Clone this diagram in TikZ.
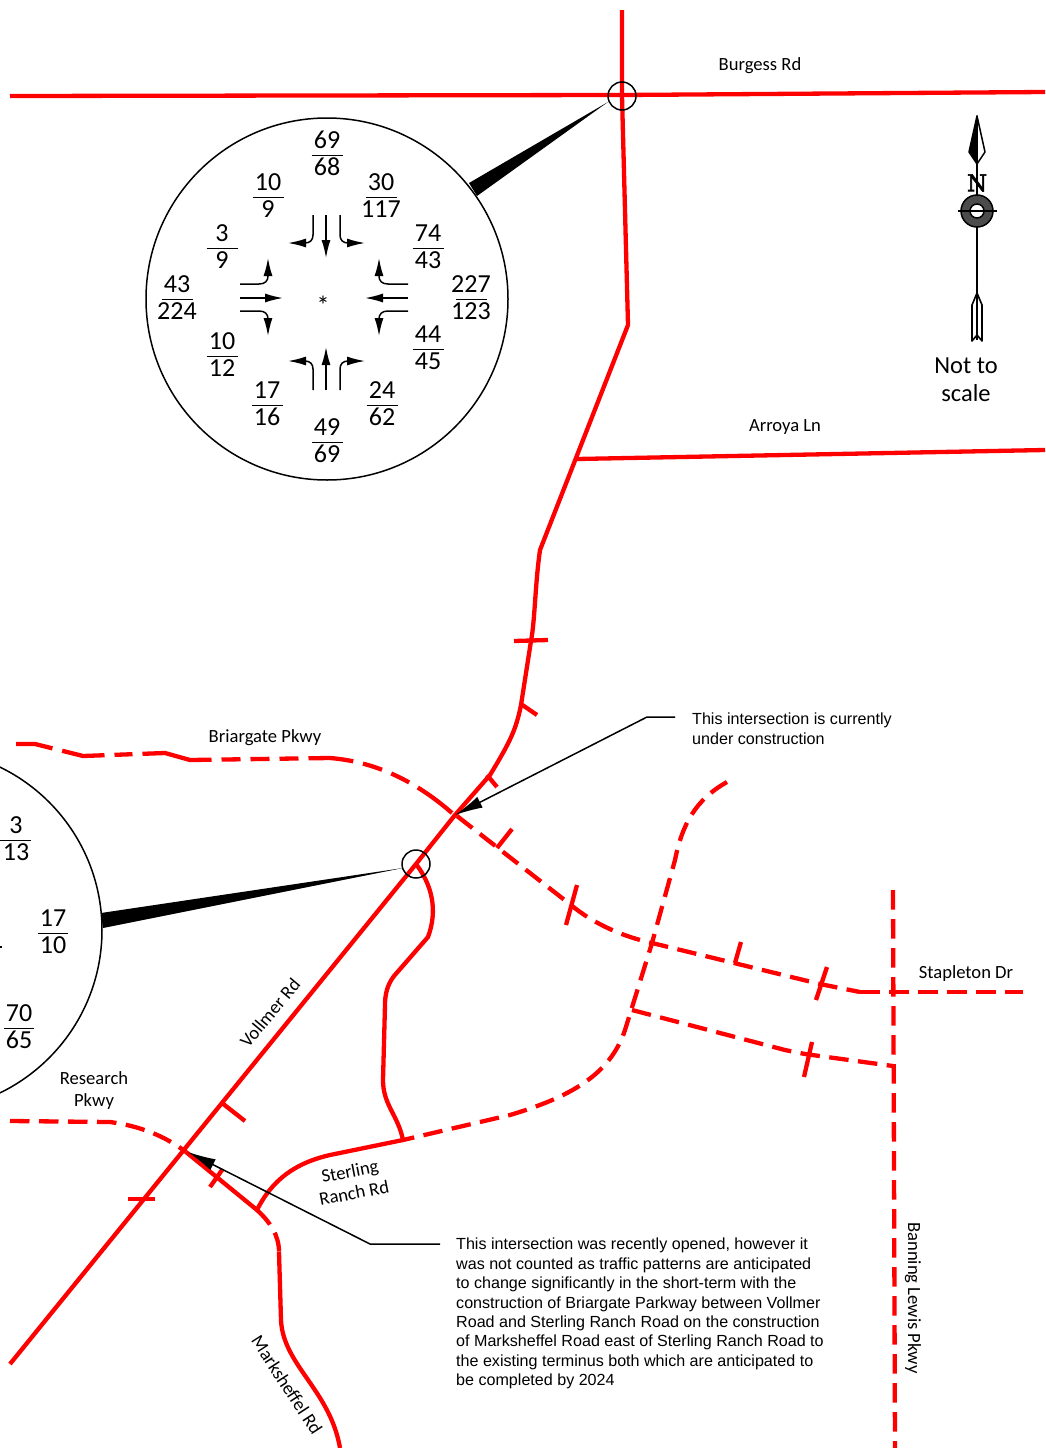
\documentclass[tikz,border=0pt]{standalone}
\usepackage{amsmath}
\usepackage{fontspec}
\setmainfont{Carlito}
\newfontfamily\callfont{Liberation Sans}
\newfontfamily\slabfont[FakeBold=2.5]{DejaVu Serif}
\usetikzlibrary{arrows.meta}
\setlength{\arrayrulewidth}{1.3pt}
\newcommand{\vol}[2]{\begin{tabular}{@{}c@{}}\makebox[31pt]{#1}\\[-1pt]\hline\rule{0pt}{19pt}\makebox[31pt]{#2}\end{tabular}}
\tikzset{
	road/.style={red, line width=4.3pt, line join=round},
	newroad/.style={road, dash pattern=on 19.5pt off 9.5pt},
	lens/.style={draw=black, line width=1.5pt, circle, inner sep=0pt, minimum size=362pt},
	ringmark/.style={draw=black, line width=1.5pt, circle, inner sep=0pt, minimum size=28pt},
	move/.style={black, line width=1.5pt, -{Latex[length=18pt,width=9pt]}},
	leader/.style={black, line width=1.5pt, -{Latex[length=28pt,width=12pt]}},
	volume/.style={inner sep=0pt, font=\fontsize{26}{24}\selectfont},
	roadname/.style={inner sep=0pt, align=center, font=\fontsize{18.6}{22}\selectfont},
	note/.style={inner sep=0pt, align=left, anchor=north west, font=\callfont\fontsize{16.1}{19.4}\selectfont}
}
\begin{document}
\begin{tikzpicture}[x=1pt, y=-1pt]
	\clip (0, 0) rectangle (1045, 1448);
	\fill [white] (0, 0) rectangle (1045, 1448);
	% existing roads
	\draw [road] (10, 96)--(622, 95)--(1045, 92);
	\draw [road] (622, 10)--(622, 96)--(628, 325)--(540, 550) .. controls (535, 585) and (535, 620) .. (531, 641)--(521, 705) .. controls (516, 730) and (510, 742) .. (490, 775)--(455, 815)--(416, 864)--(10, 1364);
	\draw [road] (577, 459)--(1045, 450);
	\draw [road] (416, 864) .. controls (432, 885) and (438, 910) .. (428, 937)--(394, 976) .. controls (387, 985) and (385, 995) .. (385, 1005)--(383, 1080) .. controls (383, 1105) and (398, 1115) .. (403, 1140)--(330, 1155) .. controls (295, 1163) and (272, 1180) .. (257, 1210)--(186, 1152);
	\draw [road] (279, 1252)--(281, 1320) .. controls (283, 1365) and (330, 1390) .. (340, 1448);
	% ticks
	\draw [road] (514, 641)--(548, 640);
	\draw [road] (521, 704)--(537, 715);
	\draw [road] (487, 775)--(497, 787);
	\draw [road] (222, 1103)--(245, 1121);
	\draw [road] (128, 1199)--(155, 1199);
	\draw [road] (222, 1170)--(210, 1187);
	\draw [road] (497, 848)--(512, 829);
	\draw [road] (577, 885)--(566, 925);
	\draw [road] (735, 963)--(741, 942);
	\draw [road] (827, 967)--(816, 1000);
	\draw [road] (812, 1042)--(804, 1077);
	% planned roads
	\draw [road, dash pattern=on 37pt off 10pt on 43pt off 10pt on 18pt off 10pt on 70pt off 10pt on 19pt off 10pt on 19pt off 10pt on 19pt off 10pt on 45pt off 10pt on 20pt off 10pt on 20pt off 10pt on 50pt off 10pt] (16, 744)--(35, 744)--(83, 756)--(165, 753)--(190, 760)--(330, 758) .. controls (380, 762) and (420, 785) .. (452, 813);
	\draw [newroad] (457, 816)--(571, 905) .. controls (595, 925) and (625, 937) .. (652, 943)--(820, 984)--(860, 992);
	\draw [newroad] (860, 992)--(1023, 992);
	\draw [newroad] (727, 782) .. controls (695, 800) and (682, 825) .. (675, 860)--(652, 943)--(625, 1030) .. controls (610, 1075) and (570, 1097) .. (510, 1115)--(403, 1140);
	\draw [newroad] (632, 1010)--(785, 1050)--(805, 1054)--(893, 1066);
	\draw [newroad] (893, 890)--(895, 1448);
	\draw [newroad] (10, 1121)--(110, 1122) .. controls (140, 1126) and (165, 1136) .. (186, 1152);
	\draw [newroad] (257, 1210) .. controls (270, 1222) and (279, 1235) .. (279, 1252);
	% intersection lenses
	\node [ringmark] (burgessring) at (622, 96) {};
	\node [ringmark] (vollmerring) at (416, 864) {};
	\node [lens] (burgesslens) at (327, 299) {};
	\node [lens] (vollmerlens) at (-79, 930) {};
	\coordinate (burgesstip) at (608, 102);
	\coordinate (burgessa) at (469, 183);
	\coordinate (burgessb) at (477, 196);
	\coordinate (vollmertip) at (403, 868);
	\coordinate (vollmera) at (101, 913);
	\coordinate (vollmerb) at (103, 928);
	\fill [black] (burgesstip)--(burgessa)--(burgessb)--cycle;
	\fill [black] (vollmertip)--(vollmera)--(vollmerb)--cycle;
	% volumes
	\node [volume] (norththru) at (327, 157) {\vol{69}{68}};
	\node [volume] (northright) at (268, 199) {\vol{10}{9}};
	\node [volume] (northleft) at (381, 199) {\vol{30}{117}};
	\node [volume] (westleft) at (222, 250) {\vol{3}{9}};
	\node [volume] (westthru) at (177, 301) {\vol{43}{224}};
	\node [volume] (westright) at (222, 358) {\vol{10}{12}};
	\node [volume] (southleft) at (267, 407) {\vol{17}{16}};
	\node [volume] (souththru) at (327, 444) {\vol{49}{69}};
	\node [volume] (southright) at (382, 407) {\vol{24}{62}};
	\node [volume] (eastright) at (428, 250) {\vol{74}{43}};
	\node [volume] (eastthru) at (471, 301) {\vol{227}{123}};
	\node [volume] (eastleft) at (428, 351) {\vol{44}{45}};
	\node [volume] (star) at (323, 305) {*};
	\node [volume] (vollmerone) at (16, 842) {\vol{3}{13}};
	\node [volume] (vollmertwo) at (53, 935) {\vol{17}{10}};
	\node [volume] (vollmerthree) at (19, 1030) {\vol{70}{65}};
	\draw [black, line width=1.5pt] (0, 947)--(2, 947);
	% turning movements
	\draw [move] (326, 215)--(326, 258);
	\draw [move] (313, 215)--(313, 235) .. controls (313, 240) and (310, 243) .. (305, 243)--(288, 243);
	\draw [move] (340, 215)--(340, 235) .. controls (340, 240) and (343, 243) .. (348, 243)--(365, 243);
	\draw [move] (326, 390)--(326, 347);
	\draw [move] (313, 390)--(313, 369) .. controls (313, 364) and (310, 361) .. (305, 361)--(288, 361);
	\draw [move] (340, 390)--(340, 369) .. controls (340, 364) and (343, 361) .. (348, 361)--(365, 361);
	\draw [move] (240, 298)--(283, 298);
	\draw [move] (240, 284)--(259, 284) .. controls (265, 284) and (268, 281) .. (268, 276)--(268, 258);
	\draw [move] (240, 311)--(259, 311) .. controls (265, 311) and (268, 314) .. (268, 319)--(268, 336);
	\draw [move] (408, 298)--(365, 298);
	\draw [move] (408, 284)--(388, 284) .. controls (382, 284) and (379, 281) .. (379, 276)--(379, 258);
	\draw [move] (408, 311)--(388, 311) .. controls (382, 311) and (379, 314) .. (379, 319)--(379, 336);
	% north arrow
	\draw [black, line width=1.5pt] (977, 117)--(977, 340);
	\filldraw [black, line width=1.5pt, line join=round] (977, 116)--(969, 152)--(977, 164)--cycle;
	\draw [black, line width=1.5pt, line join=round, fill=white] (977, 116)--(985, 152)--(977, 164)--cycle;
	\filldraw [black, fill=black!70, line width=1.5pt] (977, 211) circle (16);
	\filldraw [black, fill=white, line width=1.5pt] (977, 211) circle (7);
	\draw [black, line width=1.5pt] (958, 211)--(997, 211);
	\draw [black, line width=1.6pt, line join=round, fill=white] (977, 293)--(972, 305)--(972, 341)--(977, 335)--(982, 341)--(982, 305)--cycle;
	\draw [black, line width=1.6pt] (977, 293)--(977, 335);
	\node [inner sep=0pt, font=\slabfont\fontsize{23}{23}\selectfont] (northmark) at (977, 183) {N};
	\node [roadname, font=\fontsize{24.5}{28}\selectfont] (scalenote) at (966, 380) {Not to\\scale};
	% road names
	\node [roadname] (burgessname) at (760, 66) {Burgess Rd};
	\node [roadname] (arroyaname) at (785, 427) {Arroya Ln};
	\node [roadname] (briargatename) at (265, 738) {Briargate Pkwy};
	\node [roadname] (stapletonname) at (966, 974) {Stapleton Dr};
	\node [roadname, rotate=50] (vollmername) at (270, 1013) {Vollmer Rd};
	\node [roadname] (researchname) at (94, 1091) {Research\\Pkwy};
	\node [roadname, rotate=11] (sterlingname) at (352, 1182) {Sterling\\Ranch Rd};
	\node [roadname, rotate=-57] (marksname) at (287, 1385) {Marksheffel Rd};
	\node [roadname, rotate=-90] (banningname) at (913, 1298) {Banning Lewis Pkwy};
	% notes
	\node [note] (uppernote) at (692, 713) {This intersection is currently\\under construction};
	\node [note] (lowernote) at (456, 1238) {This intersection was recently opened, however it\\was not counted as traffic patterns are anticipated\\to change significantly in the short-term with the\\construction of Briargate Parkway between Vollmer\\Road and Sterling Ranch Road on the construction\\of Marksheffel Road east of Sterling Ranch Road to\\the existing terminus both which are anticipated to\\be completed by 2024};
	\coordinate (upperfoot) at (675, 717);
	\coordinate (upperbend) at (647, 717);
	\coordinate (uppertip) at (455, 815);
	\coordinate (lowerfoot) at (440, 1244);
	\coordinate (lowerbend) at (370, 1244);
	\coordinate (lowertip) at (188, 1152);
	\draw [leader] (upperfoot)--(upperbend)--(uppertip);
	\draw [leader] (lowerfoot)--(lowerbend)--(lowertip);
\end{tikzpicture}
\end{document}
